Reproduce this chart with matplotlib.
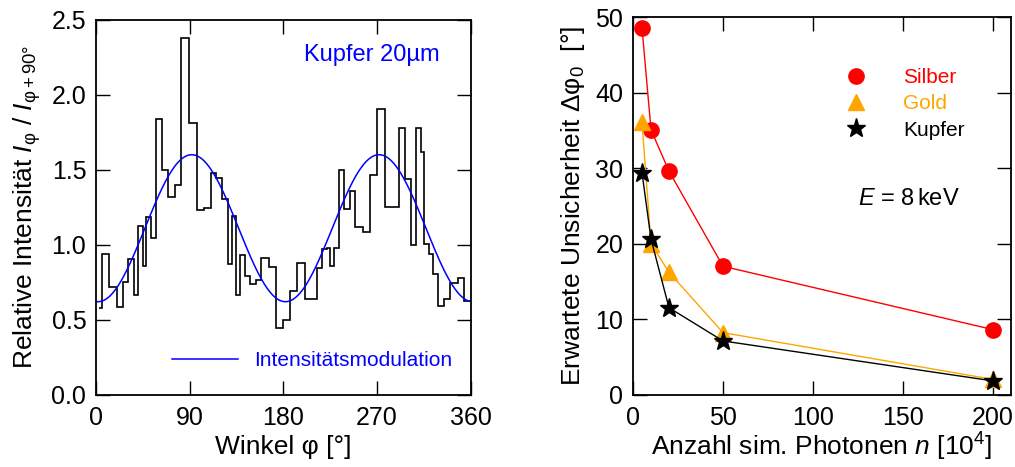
import numpy as np
import matplotlib
matplotlib.use("Agg")
import matplotlib.pyplot as plt
from matplotlib.lines import Line2D

plt.rcParams['font.family'] = ['Liberation Sans', 'DejaVu Sans']
plt.rcParams['mathtext.fontset'] = 'custom'
plt.rcParams['mathtext.rm'] = 'Liberation Sans'
plt.rcParams['mathtext.it'] = 'Liberation Sans:italic'
plt.rcParams['mathtext.bf'] = 'Liberation Sans:bold'

# ---------------- Left panel data: histogram of relative intensity ----------------
bin_edges = [3.0, 6.2, 12.6, 20.0, 25.5, 31.2, 36.1, 40.6, 44.7, 47.9, 52.7, 57.2,
             63.3, 68.8, 76.2, 81.9, 89.6, 97.0, 103.4, 110.8, 115.6, 121.4, 126.5,
             131.0, 134.9, 138.1, 142.9, 147.7, 154.1, 158.9, 166.3, 172.7, 179.8,
             186.5, 192.9, 201.0, 211.9, 216.7, 221.5, 225.0, 228.9, 233.0, 237.9,
             244.0, 249.1, 256.8, 263.5, 269.9, 277.6, 291.4, 297.2, 302.7, 307.5,
             312.3, 315.5, 320.3, 323.5, 328.3, 334.7, 339.9, 347.6, 353.4, 360.0]
rel_intensity = [0.576, 0.938, 0.72, 0.587, 0.753, 0.905, 0.665, 1.122, 0.86, 1.185,
                 1.042, 1.836, 1.5, 1.32, 1.396, 2.38, 1.809, 1.231, 1.247, 1.478,
                 1.443, 1.305, 0.869, 1.189, 0.665, 0.931, 0.791, 0.738, 0.765, 0.909,
                 0.849, 0.442, 0.498, 0.691, 0.88, 0.638, 0.842, 0.969, 0.98, 0.86,
                 0.976, 1.5, 1.238, 1.36, 1.118, 1.087, 1.462, 1.907, 1.249, 1.78,
                 1.436, 0.998, 1.776, 1.62, 1.003, 0.938, 0.805, 0.591, 0.636, 0.743,
                 0.776, 0.625]

# fitted modulation  I(phi) = offset + amplitude * cos(2 (phi - phase))
mod_offset = 1.11
mod_amplitude = 0.49
mod_phase = 92.0

# ---------------- Right panel data ----------------
photons = [5, 10, 20, 50, 200]
silber = [48.6, 35.1, 29.6, 17.0, 8.6]
gold = [36.1, 20.0, 16.2, 8.2, 2.0]
kupfer = [29.4, 20.6, 11.5, 7.1, 1.8]

W, H = 1015, 467
fig = plt.figure(figsize=(W / 100, H / 100), dpi=100)

ax1 = fig.add_axes([96 / W, 1 - 394.7 / H, (470.7 - 96) / W, (394.7 - 19.7) / H])
ax2 = fig.add_axes([633 / W, 1 - 394.5 / H, (1011 - 633) / W, (394.5 - 17.3) / H])

TICK_FS = 18
LABEL_FS = 19

for ax in (ax1, ax2):
    ax.tick_params(direction='in', length=10, width=1, top=True, right=True,
                   labelsize=TICK_FS)
    ax.tick_params(axis='x', pad=8)
    ax.tick_params(axis='y', pad=7)
    for s in ax.spines.values():
        s.set_linewidth(1.3)

# left panel
ax1.stairs(rel_intensity, bin_edges, baseline=None, color='black', lw=1.2)
phi = np.linspace(0, 360, 721)
ax1.plot(phi, mod_offset + mod_amplitude * np.cos(np.radians(2 * (phi - mod_phase))),
         color='#0000ff', lw=1.1, label='Intensitätsmodulation')
ax1.set_xlim(0, 360)
ax1.set_ylim(0, 2.5)
ax1.set_xticks([0, 90, 180, 270, 360])
ax1.set_yticks([0, 0.5, 1.0, 1.5, 2.0, 2.5])
ax1.set_yticklabels(['0.0', '0.5', '1.0', '1.5', '2.0', '2.5'])
ax1.set_xlabel('Winkel φ [°]', fontsize=LABEL_FS, labelpad=4)
ax1.set_ylabel(r'Relative Intensität $\mathit{I}_{\mathrm{φ}}$ / $\mathit{I}_{\mathrm{φ+90°}}$',
               fontsize=LABEL_FS, labelpad=6)
ax1.text(0.918, 0.905, 'Kupfer 20µm', transform=ax1.transAxes, color='#0000ff',
         fontsize=17, ha='right', va='center')
ax1.legend(loc='lower right', bbox_to_anchor=(1.0, 0.015), frameon=False,
           fontsize=15, labelcolor='#0000ff', handlelength=3.2, handletextpad=0.75)

# right panel
ax2.plot(photons, silber, color='red', lw=1, marker='o', ms=11)
ax2.plot(photons, gold, color='orange', lw=1, marker='^', ms=11)
ax2.plot(photons, kupfer, color='black', lw=1, marker='*', ms=14)
ax2.set_xlim(0, 210)
ax2.set_ylim(0, 50)
ax2.set_xticks([0, 50, 100, 150, 200])
ax2.set_yticks([0, 10, 20, 30, 40, 50])
ax2.set_xlabel(r'Anzahl sim. Photonen $\mathit{n}$ [10$^4$]', fontsize=LABEL_FS, labelpad=1)
ax2.set_ylabel(r'Erwartete Unsicherheit Δφ$_0$  [°]', fontsize=LABEL_FS, labelpad=6)
handles = [Line2D([], [], ls='none', marker='o', color='red', ms=11),
           Line2D([], [], ls='none', marker='^', color='orange', ms=11),
           Line2D([], [], ls='none', marker='*', color='black', ms=14)]
ax2.legend(handles, ['Silber', 'Gold', 'Kupfer'], loc='upper left',
           bbox_to_anchor=(0.495, 0.915), frameon=False, fontsize=15,
           labelcolor=['red', 'orange', 'black'], handlelength=1.6,
           handletextpad=1.5, labelspacing=0.35)
ax2.text(0.73, 0.518, r'$\mathit{E}$ = 8$\,$keV', transform=ax2.transAxes,
         fontsize=17, ha='center', va='center')

fig.savefig('out.png', dpi=100)
